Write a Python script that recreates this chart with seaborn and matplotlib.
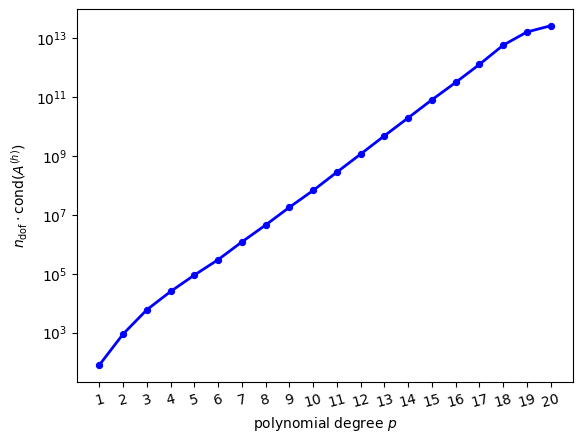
import numpy as np
import pandas as pd
import matplotlib
matplotlib.use("Agg")
import matplotlib.pyplot as plt
import seaborn as sns

# ── Data ─────────────────────────────────────────────────
degrees = list(range(1, 21))
cond_values = [80, 900, 6e3, 2.5e4, 9e4, 3e5, 1.2e6, 4.5e6, 1.8e7, 6.7e7,
               2.8e8, 1.15e9, 4.8e9, 1.95e10, 8e10, 3.1e11, 1.27e12,
               5.7e12, 1.6e13, 2.6e13]

df = pd.DataFrame({"p": degrees, "cond": cond_values})

fig, ax = plt.subplots(figsize=(5.82, 4.40), dpi=100)
sns.lineplot(data=df, x="p", y="cond", ax=ax, color="blue", linewidth=2,
             marker="o", markersize=4.5, markeredgecolor="blue")
ax.set_yscale("log")
ax.set_xticks(degrees)
ax.set_xticklabels([str(d) for d in degrees], rotation=15)
ax.set_xlabel("polynomial degree $p$")
ax.set_ylabel(r"$n_{\mathrm{dof}} \cdot \mathrm{cond}(A^{(h)})$")
plt.subplots_adjust(left=0.132, right=0.985, top=0.98, bottom=0.132)
plt.savefig("out.png")
plt.close()
